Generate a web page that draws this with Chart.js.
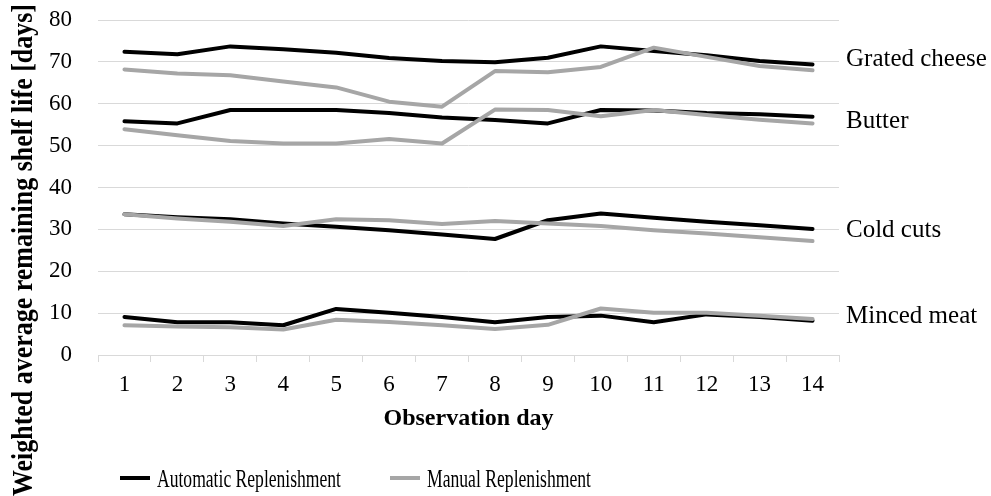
<!DOCTYPE html>
<html>
<head>
<meta charset="utf-8">
<script src="https://cdn.jsdelivr.net/npm/chart.js@4.4.0/dist/chart.umd.min.js"></script>
<style>
  html, body { margin: 0; padding: 0; background: #fff; }
</style>
</head>
<body>
<canvas id="shelf-life-chart" width="991" height="496"></canvas>
<script>
// Observation days (x categories)
const days = ['1', '2', '3', '4', '5', '6', '7', '8', '9', '10', '11', '12', '13', '14'];

// Values, days of remaining shelf life
const cheeseAuto   = [72.4, 71.8, 73.7, 73.0, 72.2, 70.9, 70.2, 69.9, 71.0, 73.7, 72.6, 71.6, 70.2, 69.4];
const cheeseManual = [68.2, 67.2, 66.8, 65.3, 63.9, 60.5, 59.3, 67.8, 67.5, 68.8, 73.4, 71.2, 69.0, 68.0];
const butterAuto   = [55.8, 55.3, 58.5, 58.5, 58.5, 57.8, 56.7, 56.1, 55.3, 58.5, 58.4, 57.8, 57.5, 56.9];
const butterManual = [53.9, 52.5, 51.1, 50.5, 50.5, 51.6, 50.5, 58.6, 58.5, 57.0, 58.5, 57.3, 56.2, 55.3];
const coldAuto     = [33.6, 32.9, 32.4, 31.4, 30.6, 29.8, 28.8, 27.7, 32.2, 33.8, 32.8, 31.8, 31.0, 30.1];
const coldManual   = [33.6, 32.6, 31.8, 30.8, 32.4, 32.2, 31.3, 32.0, 31.4, 30.8, 29.8, 29.0, 28.1, 27.2];
const mincedAuto   = [9.1, 7.8, 7.8, 7.1, 11.0, 10.1, 9.1, 7.8, 9.1, 9.4, 7.8, 9.7, 9.1, 8.2];
const mincedManual = [7.1, 6.8, 6.6, 6.1, 8.4, 7.9, 7.1, 6.2, 7.2, 11.1, 10.1, 10.1, 9.4, 8.6];

// Product labels on the right and the level (in days) their baseline sits at
const productNames  = ['Grated cheese', 'Butter', 'Cold cuts', 'Minced meat'];
const productLevels = [69.0, 54.1, 28.2, 7.6];

const seriesNames = ['Automatic Replenishment', 'Manual Replenishment'];
const yTitle = 'Weighted average remaining shelf life [days]';
const xTitle = 'Observation day';

const SERIF = "'Liberation Serif', 'Times New Roman', serif";
const AUTO_COLOR = '#000000';
const MANUAL_COLOR = '#a6a6a6';
const GRID_COLOR = '#d9d9d9';

function lineSet(label, data, color) {
  return {
    label: label,
    data: data,
    borderColor: color,
    backgroundColor: color,
    borderWidth: 4,
    pointRadius: 0,
    tension: 0,
    borderJoinStyle: 'round',
    borderCapStyle: 'round',
    fill: false
  };
}

// Texts that live outside the axes: product names, rotated y title, legend
const sideTexts = {
  id: 'sideTexts',
  afterDraw(chart) {
    const ctx = chart.ctx;
    const y = chart.scales.y;
    const area = chart.chartArea;
    ctx.save();
    ctx.fillStyle = '#000';
    ctx.textBaseline = 'alphabetic';

    // product names next to the line ends
    ctx.font = '25px ' + SERIF;
    ctx.textAlign = 'left';
    productNames.forEach((name, i) => {
      ctx.fillText(name, area.right + 7, y.getPixelForValue(productLevels[i]));
    });

    // y axis title, squeezed along its length like the original
    ctx.save();
    ctx.translate(32, 250);
    ctx.rotate(-Math.PI / 2);
    ctx.font = 'bold 29px ' + SERIF;
    const w = ctx.measureText(yTitle).width;
    ctx.scale(492 / w, 1);
    ctx.textAlign = 'center';
    ctx.fillText(yTitle, 0, 0);
    ctx.restore();

    // legend
    const items = [
      { x: 120, color: AUTO_COLOR, textWidth: 184 },
      { x: 390, color: MANUAL_COLOR, textWidth: 164 }
    ];
    items.forEach((it, i) => {
      ctx.strokeStyle = it.color;
      ctx.lineWidth = 4;
      ctx.beginPath();
      ctx.moveTo(it.x, 478);
      ctx.lineTo(it.x + 30, 478);
      ctx.stroke();
      ctx.save();
      ctx.font = '25px ' + SERIF;
      const tw = ctx.measureText(seriesNames[i]).width;
      ctx.translate(it.x + 37, 487);
      ctx.scale(it.textWidth / tw, 1);
      ctx.textAlign = 'left';
      ctx.fillText(seriesNames[i], 0, 0);
      ctx.restore();
    });
    ctx.restore();
  }
};

Chart.defaults.font.family = SERIF;
Chart.defaults.color = '#000';

new Chart(document.getElementById('shelf-life-chart'), {
  type: 'line',
  data: {
    labels: days,
    datasets: [
      // manual first so the grey lines sit on top, as in the original
      lineSet('Grated cheese - manual', cheeseManual, MANUAL_COLOR),
      lineSet('Butter - manual', butterManual, MANUAL_COLOR),
      lineSet('Cold cuts - manual', coldManual, MANUAL_COLOR),
      lineSet('Minced meat - manual', mincedManual, MANUAL_COLOR),
      lineSet('Grated cheese - automatic', cheeseAuto, AUTO_COLOR),
      lineSet('Butter - automatic', butterAuto, AUTO_COLOR),
      lineSet('Cold cuts - automatic', coldAuto, AUTO_COLOR),
      lineSet('Minced meat - automatic', mincedAuto, AUTO_COLOR)
    ]
  },
  options: {
    responsive: false,
    animation: false,
    devicePixelRatio: 1,
    layout: { padding: { left: 0, right: 152, top: 20, bottom: 0 } },
    plugins: {
      legend: { display: false },
      tooltip: { enabled: false }
    },
    scales: {
      x: {
        offset: true,
        grid: {
          offset: true,
          drawOnChartArea: false,
          tickLength: 7,
          color: GRID_COLOR
        },
        border: { color: GRID_COLOR, width: 1 },
        ticks: {
          font: { size: 23 },
          padding: 9,
          maxRotation: 0
        },
        title: {
          display: true,
          text: xTitle,
          font: { size: 24, weight: 'bold' },
          padding: { top: 0, bottom: 63 }
        },
        afterFit(scale) { scale.height = 141; }
      },
      y: {
        min: 0,
        max: 80,
        ticks: {
          stepSize: 10,
          font: { size: 23 },
          padding: 26
        },
        grid: {
          color: GRID_COLOR,
          drawTicks: false
        },
        border: { display: false },
        afterFit(scale) {
          scale.width = 98;
          // the tick padding would otherwise push the plot top down
          scale.paddingTop = 0;
          scale.paddingBottom = 0;
        }
      }
    }
  },
  plugins: [sideTexts]
});
</script>
</body>
</html>
